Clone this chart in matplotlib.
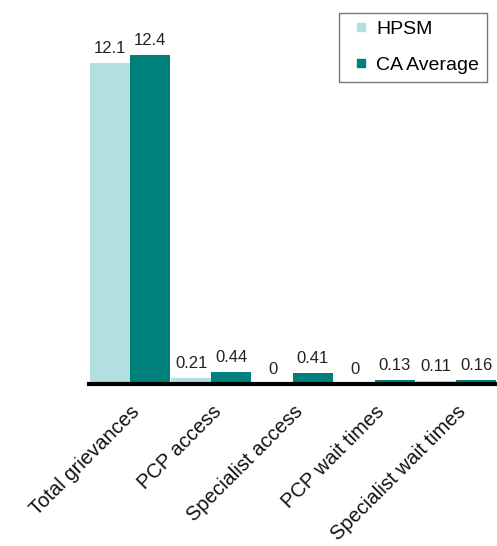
import matplotlib
matplotlib.use("Agg")
import matplotlib.pyplot as plt
from matplotlib.lines import Line2D
import numpy as np

categories = ["Total grievances", "PCP access", "Specialist access",
              "PCP wait times", "Specialist wait times"]
hpsm = [12.1, 0.21, 0, 0, 0.11]
ca_avg = [12.4, 0.44, 0.41, 0.13, 0.16]

LIGHT = "#b3dfe0"
TEAL = "#00807a"

plt.rcParams["font.family"] = ["Liberation Sans", "DejaVu Sans"]

fig = plt.figure(figsize=(4.97, 5.46), dpi=100)
ax = fig.add_axes([0.179, 0.297, 0.821, 0.68])

x = np.arange(len(categories))
w = 0.49
b1 = ax.bar(x - w / 2, hpsm, width=w, color=LIGHT, label="HPSM")
b2 = ax.bar(x + w / 2, ca_avg, width=w, color=TEAL, label="CA Average")

for bars, vals in ((b1, hpsm), (b2, ca_avg)):
    for bar, v in zip(bars, vals):
        ax.annotate(f"{v:g}", (bar.get_x() + bar.get_width() / 2, bar.get_height()),
                    textcoords="offset points", xytext=(0, 5), ha="center",
                    va="bottom", fontsize=12, color="#222222")

ax.set_xlim(-0.5, 4.5)
ax.set_ylim(0, 14)
ax.set_yticks([])
for side in ("top", "right", "left"):
    ax.spines[side].set_visible(False)
ax.spines["bottom"].set_linewidth(3)
ax.spines["bottom"].set_color("black")

ax.set_xticks(x)
ax.set_xticklabels(categories, rotation=45, ha="right", va="top",
                   rotation_mode="anchor", fontsize=14.5, color="#111111")
ax.tick_params(axis="x", length=0, pad=13)

handles = [Line2D([], [], ls="none", marker="s", markersize=6.2,
                  markerfacecolor=c, markeredgecolor=c) for c in (LIGHT, TEAL)]
leg = fig.legend(handles, ["HPSM", "CA Average"], loc="upper right",
                 bbox_to_anchor=(0.980, 0.977), bbox_transform=fig.transFigure,
                 fontsize=14, frameon=True, fancybox=False, edgecolor="#555555",
                 handlelength=1.4, handletextpad=0.1, labelspacing=0.95,
                 borderpad=0.4, borderaxespad=0)
leg.get_frame().set_linewidth(1)

fig.savefig("out.png", dpi=100)
